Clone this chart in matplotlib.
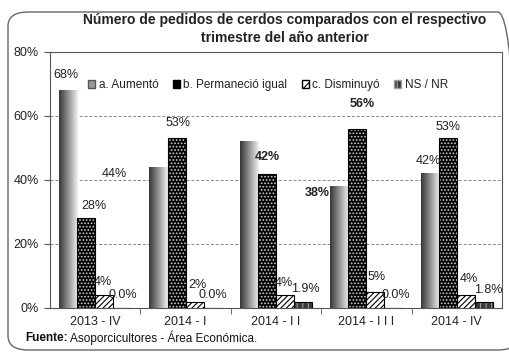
import matplotlib.pyplot as plt
import numpy as np
from matplotlib.patches import FancyBboxPatch

plt.rcParams['font.family'] = ['Liberation Sans', 'DejaVu Sans']
plt.rcParams['hatch.linewidth'] = 0.8

quarters = ['2013 - IV', '2014 - I', '2014 - I I', '2014 - I I I', '2014 - IV']
series = ['a. Aumentó', 'b. Permaneció igual', 'c. Disminuyó', 'NS / NR']
aumento = [68, 44, 52, 38, 42]
igual = [28, 53, 42, 56, 53]
disminuyo = [4, 2, 4, 5, 4]
ns_nr = [0.0, 0.0, 1.9, 0.0, 1.8]

# label offsets (pixels) from the top of each bar; None = no label
offsets = [
    [(-2, 15), (-44, -7), None, (-22, -7), (-1, 13)],
    [(8, 12), (1, 15), (0, 17), (5, 25), (0, 11)],
    [(-1, 13), (3, 17), (-1, 12), (1, 15), (3, 16)],
    [(0, 13), (0, 13), (2, 13), (2, 13), (4, 12)],
]
bold = {(0, 3), (1, 2), (1, 3)}

fig = plt.figure(figsize=(5.09, 3.54), dpi=100)
ax = fig.add_axes([50 / 509, 1 - 308 / 354, 452 / 509, 256 / 354])

x = np.arange(len(quarters))
w = 0.2
values = [aumento, igual, disminuyo, ns_nr]

# a. gradient bars
bars_a = ax.bar(x - 1.5 * w, aumento, w, facecolor='none', edgecolor='none', zorder=3)
grad = np.linspace(0, 1, 64).reshape(1, -1)
for p in bars_a:
    x0, h = p.get_x(), p.get_height()
    ax.imshow(grad, extent=[x0, x0 + w, 0, h], aspect='auto', cmap='gray',
              vmin=-0.3, vmax=1.08, zorder=2.5)

# b. black with small white dots
ax.bar(x - 0.5 * w, igual, w, facecolor='black', edgecolor='#d0d0d0', hatch='.....',
       linewidth=0, zorder=3)
ax.bar(x - 0.5 * w, igual, w, facecolor='none', edgecolor='black', linewidth=0.8, zorder=3.1)

# c. white with diagonal hatch
ax.bar(x + 0.5 * w, disminuyo, w, facecolor='white', edgecolor='black', hatch='//////',
       linewidth=0.8, zorder=3)

# NS / NR dark with vertical lines
ax.bar(x + 1.5 * w, ns_nr, w, facecolor='#3a3a3a', edgecolor='#a0a0a0', hatch='|||',
       linewidth=0, zorder=3)
ax.bar(x + 1.5 * w, ns_nr, w, facecolor='none', edgecolor='black', linewidth=0.8, zorder=3.1)

for j, vals in enumerate(values):
    for i, v in enumerate(vals):
        off = offsets[j][i]
        if off is None:
            continue
        txt = f'{v:.1f}%' if j == 3 else f'{v:.0f}%'
        ax.annotate(txt, (x[i] + (j - 1.5) * w, v), xytext=off, textcoords='offset pixels',
                    ha='center', va='center', fontsize=9, color='#222222',
                    fontweight='bold' if (j, i) in bold else 'normal', zorder=5)

ax.set_xlim(-0.5, 4.5)
ax.set_ylim(0, 80)
ax.set_yticks([0, 20, 40, 60, 80])
ax.set_yticklabels([f'{t}%' for t in [0, 20, 40, 60, 80]], fontsize=9, color='#222222')
ax.set_xticks(x)
ax.set_xticklabels(quarters, fontsize=9, color='#222222')
ax.tick_params(axis='x', length=0, pad=6)
ax.set_xticks(np.arange(0.5, 4.5, 1), minor=True)
ax.tick_params(axis='x', which='minor', length=4, direction='out', color='#555555')
ax.tick_params(axis='y', length=4, direction='out', color='#555555', pad=4)
ax.yaxis.grid(True, linestyle=(0, (3, 2)), color='#888888', linewidth=0.7, zorder=0)
ax.set_axisbelow(True)
for s in ax.spines.values():
    s.set_color('#555555')
    s.set_linewidth(0.8)

# legend handles
handles = [
    plt.Rectangle((0, 0), 1, 1, facecolor='#9a9a9a', edgecolor='#555555'),
    plt.Rectangle((0, 0), 1, 1, facecolor='black', edgecolor='black'),
    plt.Rectangle((0, 0), 1, 1, facecolor='white', edgecolor='black', hatch='////'),
    plt.Rectangle((0, 0), 1, 1, facecolor='#3a3a3a', edgecolor='#a0a0a0', hatch='|||'),
]
ax.legend(handles, series, ncol=4, frameon=False, fontsize=8.5, loc='center',
          bbox_to_anchor=((268 - 50) / 452, 1 - 33 / 256), handlelength=0.6,
          handleheight=0.6, handletextpad=0.3, columnspacing=1.2, labelcolor='#222222')

fig.text(285 / 509, 1 - 20 / 354, 'Número de pedidos de cerdos comparados con el respectivo',
         ha='center', va='center', fontsize=10, fontweight='bold', color='#222222')
fig.text(285 / 509, 1 - 38 / 354, 'trimestre del año anterior',
         ha='center', va='center', fontsize=10, fontweight='bold', color='#222222')

t1 = fig.text(25 / 509, 1 - 338 / 354, 'Fuente:', ha='left', va='center', fontsize=8.5,
              fontweight='bold', color='#111111')
fig.canvas.draw()
bb = t1.get_window_extent()
fig.text((bb.x1 + 2) / 509, 1 - 338 / 354, 'Asoporcicultores - Área Económica.',
         ha='left', va='center', fontsize=8.5, color='#111111')

frame = FancyBboxPatch((8 / 509, 4 / 354), 510 / 509, 338 / 354, transform=fig.transFigure,
                       boxstyle='round,pad=0,rounding_size=0.04', facecolor='none',
                       edgecolor='#666666', linewidth=1.0, zorder=0)
fig.patches.append(frame)

fig.savefig('out.png', dpi=100)
